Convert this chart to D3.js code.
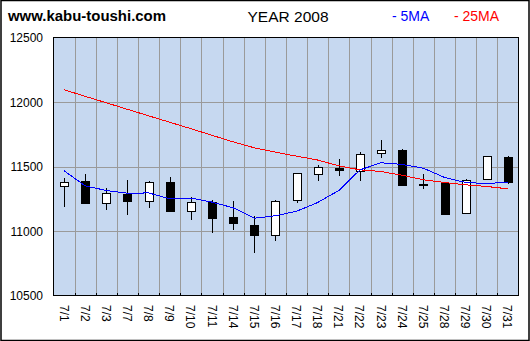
<!DOCTYPE html>
<html>
<head>
<meta charset="utf-8">
<script src="https://cdn.jsdelivr.net/npm/d3@7"></script>
<style>
  html, body { margin: 0; padding: 0; background: #fff; }
  svg { display: block; }
  text { font-family: "Liberation Sans", Arial, sans-serif; }
</style>
</head>
<body>
<svg id="chart" width="530" height="341"></svg>
<script>
// Nikkei daily candles, July 2008
const dates = ["7/1","7/2","7/3","7/7","7/8","7/9","7/10","7/11","7/14","7/15","7/16",
               "7/17","7/18","7/21","7/22","7/23","7/24","7/25","7/28","7/29","7/30","7/31"];
const openVals  = [11350,11384,11219,11288,11231,11381,11153,11226,11105,11050,10967,
                   11239,11440,11492,11467,11603,11629,11353,11370,11141,11405,11577];
const highVals  = [11407,11438,11335,11399,11391,11415,11267,11242,11236,11120,11242,
                   11446,11510,11562,11614,11702,11632,11443,11372,11400,11585,11580];
const lowVals   = [11184,11213,11161,11123,11177,11146,11089,10983,11006,10828,10921,
                   11216,11384,11425,11386,11564,11347,11327,11130,11130,11403,11366];
const closeVals = [11381,11216,11291,11231,11381,11153,11226,11099,11060,10967,11236,
                   11446,11500,11471,11598,11629,11355,11368,11130,11397,11583,11378];
const ma5Vals   = [11467,11350,11314,11293,11295,11250,11255,11224,11180,11099,11118,
                   11153,11221,11314,11474,11529,11516,11487,11415,11376,11368,11378];
const ma25Vals  = [12095,12044,11994,11943,11893,11843,11793,11742,11691,11645,11611,
                   11580,11550,11505,11474,11461,11432,11397,11376,11358,11345,11327];
const yTicks = [10500,11000,11500,12000,12500];

const svg = d3.select("#chart");

// outer frame
svg.append("rect")
  .attr("x", 1).attr("y", 0.5).attr("width", 528).attr("height", 340)
  .attr("fill", "#fff").attr("stroke", "#000").attr("stroke-width", 1.5);

const L = 53.5, R = 518.5, T = 37.5, B = 295.5;

const x = d3.scaleBand().domain(dates).range([L, R]).padding(0);
const y = d3.scaleLinear().domain([10500, 12500]).range([B, T]);
const bw = x.bandwidth();

// plot background
svg.append("rect")
  .attr("x", L).attr("y", T).attr("width", R - L).attr("height", B - T)
  .attr("fill", "#c6d8f0");

// grid
const grid = svg.append("g").attr("shape-rendering", "crispEdges")
  .attr("stroke", "#9a9a9a").attr("stroke-width", 1);
grid.selectAll("line.v").data(dates.slice(1)).join("line")
  .attr("class", "v")
  .attr("x1", d => Math.round(x(d)) + 0.5).attr("x2", d => Math.round(x(d)) + 0.5)
  .attr("y1", T).attr("y2", B);
grid.selectAll("line.h").data(yTicks.filter(v => v > 10500 && v < 12500)).join("line")
  .attr("class", "h")
  .attr("x1", L).attr("x2", R)
  .attr("y1", d => Math.round(y(d)) + 0.5).attr("y2", d => Math.round(y(d)) + 0.5);

// bottom inner ticks
svg.append("g").attr("shape-rendering", "crispEdges").attr("stroke", "#000")
  .selectAll("line").data(dates.slice(1)).join("line")
  .attr("x1", d => Math.round(x(d)) + 0.5).attr("x2", d => Math.round(x(d)) + 0.5)
  .attr("y1", B - 3).attr("y2", B);

// plot border
svg.append("rect")
  .attr("x", L).attr("y", T).attr("width", R - L).attr("height", B - T)
  .attr("fill", "none").attr("stroke", "#000").attr("shape-rendering", "crispEdges");

// candles
const cx = i => Math.round(x(dates[i]) + bw / 2) + 0.5;
const candles = svg.append("g").attr("shape-rendering", "crispEdges");
dates.forEach((d, i) => {
  const o = openVals[i], c = closeVals[i];
  candles.append("line")
    .attr("x1", cx(i)).attr("x2", cx(i))
    .attr("y1", Math.round(y(highVals[i]))).attr("y2", Math.round(y(lowVals[i])))
    .attr("stroke", "#000");
  const top = Math.round(y(Math.max(o, c))), bot = Math.round(y(Math.min(o, c)));
  candles.append("rect")
    .attr("x", cx(i) - 4).attr("y", top + 0.5)
    .attr("width", 8).attr("height", Math.max(1, bot - top))
    .attr("fill", c >= o ? "#fff" : "#000")
    .attr("stroke", "#000");
});

// moving averages
const lineGen = vals => d3.line()
  .x((v, i) => x(dates[i]) + bw / 2)
  .y(v => y(v))(vals);
svg.append("path").attr("d", lineGen(ma25Vals))
  .attr("fill", "none").attr("stroke", "#ff0000").attr("stroke-width", 1)
  .attr("shape-rendering", "crispEdges");
svg.append("path").attr("d", lineGen(ma5Vals))
  .attr("fill", "none").attr("stroke", "#0000ff").attr("stroke-width", 1)
  .attr("shape-rendering", "crispEdges");

// y labels
svg.append("g").selectAll("text").data(yTicks).join("text")
  .attr("x", 43).attr("y", d => y(d) + 4.5)
  .attr("text-anchor", "end").attr("font-size", 12).attr("fill", "#000")
  .text(d => d);

// x labels, rotated to read downward
svg.append("g").selectAll("text").data(dates).join("text")
  .attr("transform", d => `translate(${x(d) + bw / 2 - 4.5},305) rotate(90)`)
  .attr("font-size", 12).attr("fill", "#000")
  .text(d => d);

// header
svg.append("text").attr("x", 8).attr("y", 21)
  .attr("font-family", "DejaVu Sans, Verdana, sans-serif")
  .attr("font-weight", "bold").attr("font-size", 14).attr("fill", "#000")
  .attr("textLength", 158).attr("lengthAdjust", "spacingAndGlyphs")
  .text("www.kabu-toushi.com");
svg.append("text").attr("x", 288).attr("y", 22)
  .attr("text-anchor", "middle").attr("font-size", 15.5).attr("fill", "#000")
  .text("YEAR 2008");
svg.append("text").attr("x", 392).attr("y", 21)
  .attr("font-size", 14).attr("fill", "#0000ff").text("- 5MA");
svg.append("text").attr("x", 454).attr("y", 21)
  .attr("font-size", 14).attr("fill", "#ff0000").text("- 25MA");
</script>
</body>
</html>
